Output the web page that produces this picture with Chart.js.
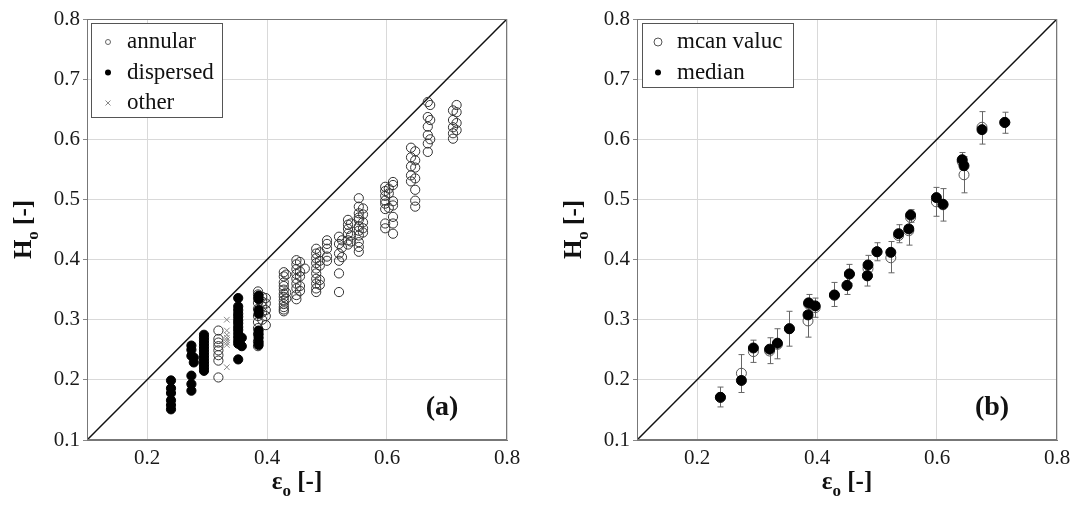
<!DOCTYPE html>
<html><head><meta charset="utf-8">
<script src="https://cdn.jsdelivr.net/npm/chart.js@4.4.1/dist/chart.umd.min.js"></script>
<style>
html,body{margin:0;padding:0;background:#fff;width:1078px;height:505px;overflow:hidden}
#ca{position:absolute;left:0;top:0}
#cb{position:absolute;left:540px;top:0}
</style></head><body>
<canvas id="ca" width="540" height="505"></canvas>
<canvas id="cb" width="538" height="505"></canvas>
<script>
// ---------- tick labels ----------
const xTicks = [0.2, 0.4, 0.6, 0.8];
const yTicks = [0.1, 0.2, 0.3, 0.4, 0.5, 0.6, 0.7, 0.8];
const diagLine = [0.1, 0.8];

// ---------- panel (a): columns of measurements ----------
const annularX = [0.319, 0.385, 0.392, 0.398, 0.428, 0.432, 0.449, 0.455, 0.463, 0.482, 0.488, 0.500,
                  0.520, 0.525, 0.535, 0.540, 0.553, 0.560, 0.597, 0.603, 0.610, 0.640, 0.647, 0.668, 0.672, 0.710, 0.716];
const annularY = [
  [0.282, 0.268, 0.262, 0.256, 0.249, 0.241, 0.232, 0.204],
  [0.347, 0.342, 0.336, 0.328, 0.318, 0.306, 0.296, 0.286, 0.276, 0.264, 0.256],
  [0.338, 0.330, 0.322, 0.312, 0.300],
  [0.336, 0.327, 0.316, 0.306, 0.291],
  [0.379, 0.372, 0.362, 0.356, 0.350, 0.343, 0.338, 0.332, 0.326, 0.321, 0.317, 0.314],
  [0.375, 0.345, 0.335],
  [0.399, 0.392, 0.384, 0.376, 0.368, 0.360, 0.352, 0.341, 0.334],
  [0.396, 0.380, 0.372, 0.356, 0.348],
  [0.385],
  [0.418, 0.410, 0.402, 0.394, 0.385, 0.377, 0.368, 0.360, 0.352, 0.346],
  [0.412, 0.398, 0.390, 0.366, 0.358],
  [0.432, 0.426, 0.418, 0.405, 0.398],
  [0.438, 0.426, 0.410, 0.398, 0.377, 0.346],
  [0.432, 0.420, 0.404],
  [0.466, 0.458, 0.451, 0.443, 0.432, 0.425],
  [0.460, 0.440, 0.430],
  [0.502, 0.488, 0.477, 0.470, 0.466, 0.455, 0.448, 0.440, 0.429, 0.421, 0.413],
  [0.485, 0.475, 0.462, 0.452, 0.445],
  [0.521, 0.514, 0.506, 0.498, 0.493, 0.484, 0.460, 0.452],
  [0.518, 0.510, 0.486],
  [0.529, 0.524, 0.497, 0.490, 0.471, 0.460, 0.443],
  [0.586, 0.570, 0.555, 0.540, 0.530],
  [0.580, 0.565, 0.553, 0.535, 0.516, 0.498, 0.488],
  [0.662, 0.637, 0.621, 0.607, 0.593, 0.579],
  [0.657, 0.632, 0.600],
  [0.648, 0.632, 0.620, 0.610, 0.601],
  [0.657, 0.645, 0.627, 0.615]
];
const dispersedX = [0.240, 0.274, 0.278, 0.295, 0.352, 0.358, 0.386];
const dispersedY = [
  [0.199, 0.186, 0.178, 0.166, 0.158, 0.151],
  [0.257, 0.250, 0.240, 0.207, 0.193, 0.182],
  [0.229, 0.237],
  [0.275, 0.270, 0.265, 0.260, 0.255, 0.250, 0.245, 0.240, 0.235, 0.230, 0.225, 0.220, 0.215],
  [0.336, 0.322, 0.316, 0.310, 0.305, 0.299, 0.294, 0.288, 0.283, 0.277, 0.271, 0.265, 0.260, 0.234],
  [0.256, 0.270],
  [0.340, 0.334, 0.316, 0.310, 0.282, 0.276, 0.270, 0.263, 0.258]
];
const otherX = [0.333];
const otherY = [[0.300, 0.282, 0.275, 0.270, 0.266, 0.262, 0.258, 0.221]];

// ---------- panel (b): statistics per condition ----------
const statX    = [0.239, 0.274, 0.294, 0.321, 0.334, 0.354, 0.385, 0.386, 0.397, 0.429, 0.450, 0.454, 0.484, 0.485, 0.500, 0.523, 0.536, 0.553, 0.556, 0.599, 0.610, 0.642, 0.645, 0.675, 0.713];
const medianY  = [0.171, 0.199, 0.253, 0.251, 0.261, 0.285, 0.308, 0.328, 0.323, 0.341, 0.357, 0.376, 0.373, 0.391, 0.413, 0.412, 0.443, 0.451, 0.474, 0.503, 0.492, 0.566, 0.556, 0.616, 0.628];
const meanY    = [0.171, 0.211, 0.247, 0.248, 0.259, 0.285, 0.298, 0.326, 0.320, 0.341, 0.357, 0.376, 0.373, 0.385, 0.413, 0.403, 0.440, 0.448, 0.470, 0.496, 0.491, 0.563, 0.541, 0.620, 0.628];
const errLow   = [0.155, 0.179, 0.229, 0.227, 0.235, 0.256, 0.271, 0.312, 0.304, 0.322, 0.342, 0.360, 0.356, 0.368, 0.398, 0.378, 0.428, 0.424, 0.462, 0.472, 0.464, 0.550, 0.511, 0.592, 0.610];
const errHigh  = [0.188, 0.242, 0.266, 0.270, 0.285, 0.314, 0.325, 0.342, 0.336, 0.362, 0.372, 0.392, 0.389, 0.407, 0.428, 0.430, 0.458, 0.472, 0.483, 0.520, 0.518, 0.578, 0.571, 0.646, 0.645];

const legendA = [
  {text: 'annular', style: 'openSmall'},
  {text: 'dispersed', style: 'dot'},
  {text: 'other', style: 'cross'}
];
const legendB = [
  {text: 'mcan valuc', style: 'open'},
  {text: 'median', style: 'dot'}
];

const SERIF = '"Liberation Serif", "DejaVu Serif", serif';
Chart.defaults.font.family = SERIF;

function cols(xs, ys) {
  const out = [];
  xs.forEach((x, i) => ys[i].forEach(y => out.push({x: x, y: y})));
  return out;
}
function pairs(xs, ys) { return xs.map((x, i) => ({x: x, y: ys[i]})); }

function drawMarker(ctx, style, x, y) {
  ctx.save();
  if (style === 'openSmall') {
    ctx.strokeStyle = '#666'; ctx.lineWidth = 1;
    ctx.beginPath(); ctx.arc(x, y, 2.5, 0, Math.PI * 2); ctx.stroke();
  } else if (style === 'open') {
    ctx.strokeStyle = '#555'; ctx.lineWidth = 1;
    ctx.beginPath(); ctx.arc(x, y, 4, 0, Math.PI * 2); ctx.stroke();
  } else if (style === 'dot') {
    ctx.fillStyle = '#000';
    ctx.beginPath(); ctx.arc(x, y, 3, 0, Math.PI * 2); ctx.fill();
  } else if (style === 'cross') {
    ctx.strokeStyle = '#888'; ctx.lineWidth = 1;
    ctx.beginPath();
    ctx.moveTo(x - 2.5, y - 2.5); ctx.lineTo(x + 2.5, y + 2.5);
    ctx.moveTo(x + 2.5, y - 2.5); ctx.lineTo(x - 2.5, y + 2.5);
    ctx.stroke();
  }
  ctx.restore();
}

function makeChart(canvasId, yWidth, opts) {
  const deco = {
    id: 'deco',
    beforeDatasetsDraw(chart) {
      if (!opts.err) return;
      const ctx = chart.ctx, xs = chart.scales.x, ys = chart.scales.y;
      ctx.save();
      ctx.strokeStyle = '#666'; ctx.lineWidth = 1;
      opts.err.x.forEach((v, i) => {
        const px = Math.round(xs.getPixelForValue(v)) + 0.5;
        const p1 = ys.getPixelForValue(opts.err.lo[i]);
        const p2 = ys.getPixelForValue(opts.err.hi[i]);
        ctx.beginPath();
        ctx.moveTo(px, p1); ctx.lineTo(px, p2);
        ctx.moveTo(px - 3, p1); ctx.lineTo(px + 3, p1);
        ctx.moveTo(px - 3, p2); ctx.lineTo(px + 3, p2);
        ctx.stroke();
      });
      ctx.restore();
    },
    afterDraw(chart) {
      const ctx = chart.ctx, a = chart.chartArea;
      ctx.save();
      // frame
      ctx.strokeStyle = '#777'; ctx.lineWidth = 1;
      ctx.strokeRect(Math.round(a.left) + 0.5, Math.round(a.top) + 0.5, Math.round(a.right - a.left) - 1, Math.round(a.bottom - a.top) - 1);
      // legend
      const L = opts.legend;
      ctx.fillStyle = '#fff';
      ctx.fillRect(a.left + L.dx, a.top + 4, L.w, L.h);
      ctx.strokeStyle = '#555';
      ctx.strokeRect(Math.round(a.left + L.dx) + 0.5, Math.round(a.top + 4) + 0.5, L.w, L.h);
      ctx.font = '23px ' + SERIF;
      ctx.fillStyle = '#111';
      ctx.textBaseline = 'alphabetic';
      ctx.textAlign = 'left';
      L.items.forEach((it, i) => {
        const base = a.top + 29 + i * 30.5;
        drawMarker(ctx, it.style, a.left + L.mx, base - 6);
        ctx.fillText(it.text, a.left + L.tx, base);
      });
      // panel label
      ctx.font = 'bold 28px ' + SERIF;
      ctx.textAlign = 'center';
      ctx.fillStyle = '#111';
      ctx.fillText(opts.panel, a.left + 355, 415);
      // x axis title: eps_o [-]
      const cx = (a.left + a.right) / 2;
      drawTitle(ctx, '\u03B5', cx, 489, false);
      // y axis title: H_o [-]
      ctx.save();
      ctx.translate(a.left - 56, (a.top + a.bottom) / 2);
      ctx.rotate(-Math.PI / 2);
      drawTitle(ctx, 'H', 0, 0, true);
      ctx.restore();
      ctx.restore();
    }
  };
  function drawTitle(ctx, main, cx, base) {
    const big = 'bold 25px ' + SERIF, small = 'bold 17px ' + SERIF;
    ctx.font = big; const w1 = ctx.measureText(main).width;
    ctx.font = small; const w2 = ctx.measureText('o').width;
    ctx.font = big; const w3 = ctx.measureText(' [-]').width;
    let x = cx - (w1 + w2 + w3) / 2;
    ctx.textAlign = 'left'; ctx.fillStyle = '#111';
    ctx.font = big; ctx.fillText(main, x, base); x += w1;
    ctx.font = small; ctx.fillText('o', x, base + 7); x += w2;
    ctx.font = big; ctx.fillText(' [-]', x, base);
  }
  const tickFont = {family: SERIF, size: 21};
  return new Chart(document.getElementById(canvasId), {
    type: 'scatter',
    data: {datasets: opts.datasets},
    options: {
      responsive: false, animation: false, devicePixelRatio: 1,
      layout: {padding: {left: 0, top: 19, right: opts.rightPad, bottom: 0}},
      plugins: {legend: {display: false}, tooltip: {enabled: false}},
      scales: {
        x: {
          type: 'linear', min: 0.1, max: 0.8,
          afterBuildTicks: s => { s.ticks = xTicks.map(v => ({value: v})); },
          afterFit: s => { s.height = 65; },
          ticks: {font: tickFont, color: '#1a1a1a', padding: 6, callback: v => v.toFixed(1), maxRotation: 0},
          grid: {color: '#d9d9d9', lineWidth: 1, tickLength: 0, drawTicks: false},
          border: {display: true, color: '#777'}
        },
        y: {
          type: 'linear', min: 0.1, max: 0.8,
          afterBuildTicks: s => { s.ticks = yTicks.map(v => ({value: v})); },
          afterFit: s => { s.width = yWidth; },
          ticks: {font: tickFont, color: '#1a1a1a', padding: 3, callback: v => v.toFixed(1)},
          grid: {color: '#d9d9d9', lineWidth: 1, tickLength: 4, tickColor: '#888'},
          border: {display: true, color: '#777'}
        }
      }
    },
    plugins: [deco]
  });
}

const diag = {
  type: 'line', data: diagLine.map(v => ({x: v, y: v})), showLine: true,
  borderColor: '#111', borderWidth: 1.5, pointRadius: 0, fill: false
};

makeChart('ca', 87, {
  rightPad: 33,
  panel: '(a)',
  legend: {dx: 4, w: 131, h: 94, mx: 21, tx: 40, items: legendA},
  datasets: [
    {label: 'dispersed', data: cols(dispersedX, dispersedY), pointStyle: 'circle', pointRadius: 4.6,
     backgroundColor: '#000', borderColor: '#000', borderWidth: 1},
    {label: 'other', data: cols(otherX, otherY), pointStyle: 'crossRot', pointRadius: 4,
     borderColor: '#888', backgroundColor: '#888', borderWidth: 1},
    {label: 'annular', data: cols(annularX, annularY), pointStyle: 'circle', pointRadius: 4.6,
     backgroundColor: 'rgba(0,0,0,0)', borderColor: '#333', borderWidth: 1},
    diag
  ]
});

makeChart('cb', 97, {
  rightPad: 21,
  panel: '(b)',
  legend: {dx: 5, w: 151, h: 64, mx: 21, tx: 40, items: legendB},
  err: {x: statX, lo: errLow, hi: errHigh},
  datasets: [
    {label: 'median', data: pairs(statX, medianY), pointStyle: 'circle', pointRadius: 5,
     backgroundColor: '#000', borderColor: '#000', borderWidth: 1},
    {label: 'mean value', data: pairs(statX, meanY), pointStyle: 'circle', pointRadius: 5,
     backgroundColor: 'rgba(0,0,0,0)', borderColor: '#555', borderWidth: 1},
    Object.assign({}, diag)
  ]
});
</script>
</body></html>
